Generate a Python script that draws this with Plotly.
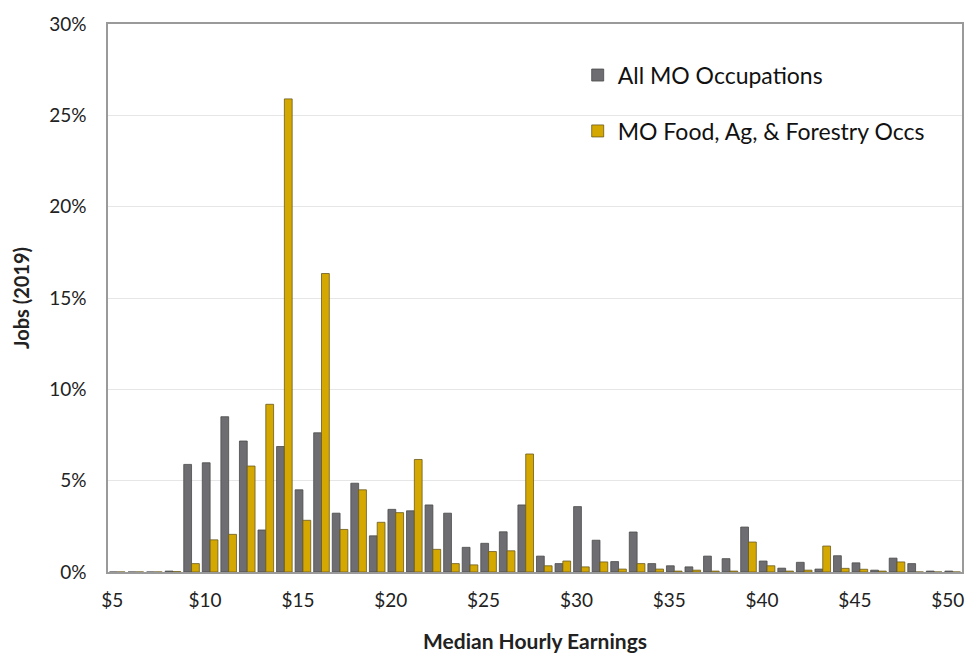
import plotly.graph_objects as go

wages = list(range(5, 51))
all_mo = [0, 0, 0, 0.05, 5.89, 5.98, 8.5, 7.17, 2.3, 6.87,
          4.5, 7.62, 3.22, 4.86, 1.98, 3.43, 3.35, 3.67, 3.22, 1.35,
          1.57, 2.2, 3.67, 0.87, 0.46, 3.58, 1.74, 0.57, 2.19, 0.46,
          0.34, 0.28, 0.87, 0.73, 2.46, 0.6, 0.21, 0.53, 0.16, 0.89,
          0.5, 0.1, 0.76, 0.46, 0.05, 0.05]
food_ag = [0, 0, 0, 0.02, 0.46, 1.76, 2.06, 5.8, 9.18, 25.9,
           2.83, 16.34, 2.33, 4.5, 2.72, 3.25, 6.16, 1.24, 0.46, 0.39,
           1.12, 1.16, 6.46, 0.34, 0.6, 0.28, 0.55, 0.16, 0.46, 0.16,
           0.05, 0.1, 0.05, 0.05, 1.64, 0.34, 0.05, 0.1, 1.42, 0.2,
           0.15, 0.05, 0.55, 0, 0, 0]

font_family = "Lato, 'Open Sans', sans-serif"

fig = go.Figure()
fig.add_trace(go.Bar(
    x=wages, y=[v / 100 for v in all_mo], name="All MO Occupations",
    marker=dict(color="#6e6e72", line=dict(color="#4a4a4a", width=0.8)),
    legendgroup="a",
))
fig.add_trace(go.Bar(
    x=wages, y=[v / 100 for v in food_ag], name="MO Food, Ag, & Forestry Occs",
    marker=dict(color="#d4a800", line=dict(color="#6a5a20", width=0.8)),
    legendgroup="b",
))

fig.update_layout(
    width=960, height=646,
    margin=dict(l=100, r=4, t=14, b=70),
    paper_bgcolor="white", plot_bgcolor="white",
    barmode="group", bargap=0.16, bargroupgap=0.0,
    font=dict(family=font_family, color="#222222"),
    legend=dict(
        x=0.55, y=0.946, xanchor="left", yanchor="top",
        font=dict(size=23, color="#111111"),
        tracegroupgap=23, bgcolor="rgba(0,0,0,0)",
    ),
    xaxis=dict(
        range=[4.5, 50.5], tickmode="linear", tick0=5, dtick=5,
        tickprefix="$", tickfont=dict(size=19),
        showgrid=False, showline=True, linecolor="#9a9a9a", linewidth=1.5,
        mirror=True, ticks="", ticklabelstandoff=10, ticklabelshift=-5,
        title=dict(text="<b>Median Hourly Earnings</b>", font=dict(size=21), standoff=25),
    ),
    yaxis=dict(
        range=[0, 0.30], tickmode="linear", tick0=0, dtick=0.05,
        tickformat=".0%", tickfont=dict(size=19),
        showgrid=True, gridcolor="#e6e6e6", gridwidth=1,
        showline=True, linecolor="#9a9a9a", linewidth=1.5, mirror=True,
        zeroline=False, ticks="", ticklen=0, ticklabelstandoff=16,
        title=dict(text="<b>Jobs (2019)</b>", font=dict(size=20), standoff=14),
    ),
)

fig.write_html("out.html", config={"displayModeBar": False})
